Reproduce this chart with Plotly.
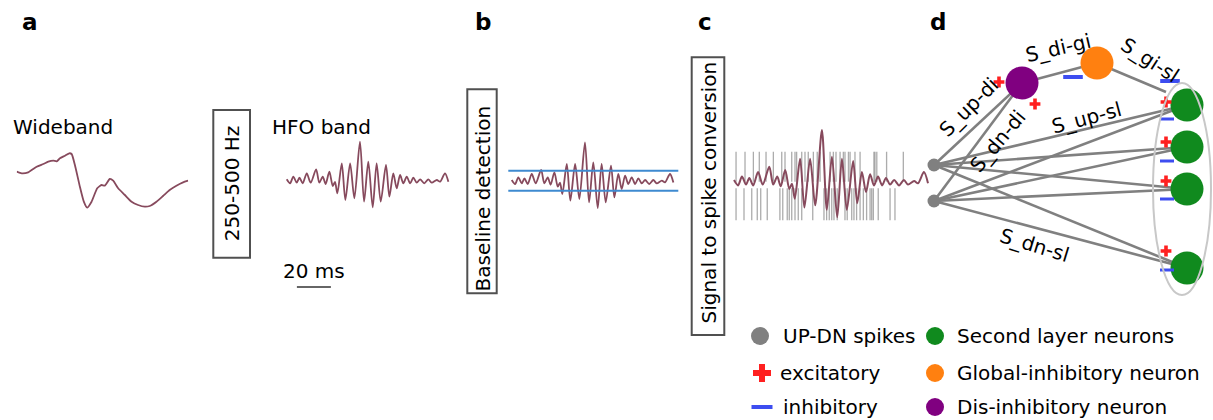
import plotly.graph_objects as go

W, H = 1213, 420

# ---------------- data ----------------
wideband_t = [0, 2.9, 6.7, 11.6, 15.5, 18.4, 21.3, 23.3, 25.2, 28.1, 30.6, 32.0, 33.9, 36.8, 39.1, 41.0,
              43.6, 46.9, 49.4, 51.3, 54.2, 56.2, 59.1, 63.0, 66.9, 70.7, 74.6, 77.5, 81.4, 85.2, 89.1,
              93.0, 96.9, 99.8]
wideband_v = [8.3, 6.7, 7.7, 13.3, 16.0, 18.3, 19.3, 18.7, 21.7, 24.3, 26.7, 26.0, 15.0, -6.7, -21.7,
              -27.7, -21.7, -8.3, -5.0, -5.7, 1.0, -0.7, -8.3, -15.0, -21.7, -25.0, -26.7, -26.0, -21.7,
              -16.0, -10.0, -5.7, -2.3, -0.7]

hfo_t = [0, 2.0, 3.9, 5.9, 7.5, 9.4, 11.8, 14.1, 17.3, 19.2, 21.2, 22.9, 25.1, 27.1, 28.4, 29.8, 32.4,
         34.5, 37.3, 39.8, 43.1, 45.5, 48.0, 50.6, 52.9, 55.3, 58.4, 60.4, 62.7, 64.7, 66.7, 68.6, 70.6,
         72.6, 74.5, 76.5, 78.5, 80.9, 83.3, 85.3, 88.3, 90.2, 93.1, 95.1]
hfo_v = [0.7, -3.3, 3.3, -2.7, 2.3, -3.3, 6.7, -2.7, 10.7, -2.7, 3.3, -4.0, 8.3, -6.0, -2.0, -13.3, 16.7,
         -20.0, 16.7, -18.3, 38.3, -21.7, 18.3, -27.3, 16.7, -21.7, 15.0, -16.7, 6.7, -8.3, 5.0, -3.3, 3.3,
         -3.3, 2.3, -2.7, 0.7, -3.3, 0.7, -2.7, 0.0, -1.7, 6.7, -1.7]

baseline_threshold = 10.0
threshold_t = [-2, 98]

up_spikes = [1.0, 5.4, 9.5, 12.4, 15.7, 19.3, 23.4, 25.0, 28.3, 29.9, 30.7, 33.2, 34.8, 36.4, 38.9,
             40.8, 42.2, 47.1, 48.7, 50.0, 52.0, 53.6, 54.4, 56.1, 56.9, 59.3, 61.8, 68.6, 69.1, 70.0,
             74.8, 83.0]
dn_spikes = [1.0, 4.9, 8.7, 11.4, 13.1, 16.3, 22.5, 23.9, 26.1, 27.1, 28.3, 29.9, 31.5, 33.2, 38.6,
             44.1, 45.4, 46.7, 47.9, 49.0, 50.6, 54.4, 55.5, 57.7, 58.8, 60.1, 61.8, 63.4, 65.0, 66.7,
             67.5, 68.3, 70.7, 76.5, 78.9]

# network (schematic coordinates, pixels)
input_x = [934, 934]
input_y = [165, 201]
di_x, di_y = 1022, 83
gi_x, gi_y = 1097, 63
sl_x = [1187, 1187, 1187, 1187]
sl_y = [105, 147, 189, 268]
gi_target = (1166, 92)

exc_net_x = [999, 1035, 1166, 1166, 1166, 1166]
exc_net_y = [82, 104, 102, 142, 181, 251]
inh_big_x = [1073, 1170]
inh_big_y = [77, 81]
inh_small_x = [1167, 1167, 1167, 1167]
inh_small_y = [119, 161, 199, 270]

edge_labels = [
    ("S_up-di", 969, 107, -45),
    ("S_dn-di", 998, 141, -50),
    ("S_di-gi", 1058, 48, -13),
    ("S_gi-sl", 1150, 60, 33),
    ("S_up-sl", 1086, 118, -15),
    ("S_dn-sl", 1034, 245, 17),
]

legend_rows = [336, 373, 407]

# colours
SIG = "#874a5d"
BLUE_LINE = "#3e8ad0"
GRAY = "#808080"
PURPLE = "#800080"
ORANGE = "#ff8010"
GREEN = "#108a1e"
RED = "#ff2020"
MINUS = "#3d4df0"
FONT = "DejaVu Sans"
FS = 20


def xdom(p0, p1):
    return [p0 / W, p1 / W]


def ydom(top, bot):
    return [1 - bot / H, 1 - top / H]


fig = go.Figure()

# ------------- network (main pixel axis) -------------
ex, ey = [], []
for ix, iy in zip(input_x, input_y):
    for sx, sy in zip(sl_x, sl_y):
        ex += [ix, sx, None]
        ey += [iy, sy, None]
    ex += [ix, di_x, None]
    ey += [iy, di_y, None]
ex += [di_x, gi_x, None, gi_x, gi_target[0], None]
ey += [di_y, gi_y, None, gi_y, gi_target[1], None]
fig.add_trace(go.Scatter(x=ex, y=ey, mode="lines", line=dict(color=GRAY, width=2.6),
                         hoverinfo="skip", showlegend=False))

fig.add_trace(go.Scatter(x=input_x, y=input_y, mode="markers",
                         marker=dict(size=13, color=GRAY), showlegend=False))
fig.add_trace(go.Scatter(x=[di_x], y=[di_y], mode="markers",
                         marker=dict(size=33, color=PURPLE), showlegend=False))
fig.add_trace(go.Scatter(x=[gi_x], y=[gi_y], mode="markers",
                         marker=dict(size=33, color=ORANGE), showlegend=False))
fig.add_trace(go.Scatter(x=sl_x, y=sl_y, mode="markers",
                         marker=dict(size=33, color=GREEN), showlegend=False))

fig.add_trace(go.Scatter(x=exc_net_x, y=exc_net_y, mode="markers",
                         marker=dict(symbol="cross", size=9, color=RED, line=dict(width=0)),
                         showlegend=False))
fig.add_trace(go.Scatter(x=inh_big_x, y=inh_big_y, mode="markers",
                         marker=dict(symbol="line-ew", size=14, line=dict(width=4, color=MINUS)),
                         showlegend=False))
fig.add_trace(go.Scatter(x=inh_small_x, y=inh_small_y, mode="markers",
                         marker=dict(symbol="line-ew", size=10, line=dict(width=3, color=MINUS)),
                         showlegend=False))

# legend markers
fig.add_trace(go.Scatter(x=[760, 935, 935, 935], y=[legend_rows[0], legend_rows[0], legend_rows[1], legend_rows[2]],
                         mode="markers", marker=dict(size=18, color=[GRAY, GREEN, ORANGE, PURPLE]),
                         showlegend=False))
fig.add_trace(go.Scatter(x=[762], y=[legend_rows[1]], mode="markers",
                         marker=dict(symbol="cross", size=15, color=RED, line=dict(width=0)),
                         showlegend=False))
fig.add_trace(go.Scatter(x=[762], y=[legend_rows[2]], mode="markers",
                         marker=dict(symbol="line-ew", size=15, line=dict(width=4, color=MINUS)),
                         showlegend=False))

# ------------- signals -------------
fig.add_trace(go.Scatter(x=wideband_t, y=wideband_v, mode="lines", xaxis="x2", yaxis="y2",
                         line=dict(color=SIG, width=1.8, shape="spline", smoothing=0.5),
                         showlegend=False))
fig.add_trace(go.Scatter(x=hfo_t, y=hfo_v, mode="lines", xaxis="x3", yaxis="y3",
                         line=dict(color=SIG, width=1.8, shape="spline", smoothing=0.8),
                         showlegend=False))
fig.add_trace(go.Scatter(x=hfo_t, y=hfo_v, mode="lines", xaxis="x4", yaxis="y4",
                         line=dict(color=SIG, width=1.8, shape="spline", smoothing=0.8),
                         showlegend=False))
fig.add_trace(go.Scatter(x=threshold_t + [None] + threshold_t,
                         y=[baseline_threshold] * 2 + [None] + [-baseline_threshold] * 2,
                         mode="lines", xaxis="x4", yaxis="y4",
                         line=dict(color=BLUE_LINE, width=2), showlegend=False))
sx, sy = [], []
for t in up_spikes:
    sx += [t, t, None]
    sy += [-0.5, 22, None]
for t in dn_spikes:
    sx += [t, t, None]
    sy += [-5.5, -29.5, None]
fig.add_trace(go.Scatter(x=sx, y=sy, mode="lines", xaxis="x5", yaxis="y5",
                         line=dict(color="rgba(90,90,90,0.5)", width=1.3), showlegend=False))
fig.add_trace(go.Scatter(x=hfo_t, y=hfo_v, mode="lines", xaxis="x5", yaxis="y5",
                         line=dict(color=SIG, width=2.0, shape="spline", smoothing=0.8),
                         showlegend=False))

hidden = dict(visible=False, showgrid=False, zeroline=False, fixedrange=True)
fig.update_layout(
    width=W, height=H, autosize=False,
    margin=dict(l=0, r=0, t=0, b=0),
    paper_bgcolor="white", plot_bgcolor="rgba(0,0,0,0)",
    font=dict(family=FONT, size=FS, color="black"),
    xaxis=dict(range=[0, W], domain=[0, 1], **hidden),
    yaxis=dict(range=[H, 0], domain=[0, 1], **hidden),
    xaxis2=dict(range=[0, 100], domain=xdom(16.7, 16.7 + 1.717 * 100), anchor="y2", **hidden),
    yaxis2=dict(range=[-40, 40], domain=ydom(140, 220), anchor="x2", **hidden),
    xaxis3=dict(range=[-3, 99], domain=xdom(286.7 - 5.1, 286.7 + 1.7 * 99), anchor="y3", **hidden),
    yaxis3=dict(range=[-40, 40], domain=ydom(140, 220), anchor="x3", **hidden),
    xaxis4=dict(range=[-3, 99], domain=xdom(511.7 - 5.1, 511.7 + 1.7 * 99), anchor="y4", **hidden),
    yaxis4=dict(range=[-40, 40], domain=ydom(140.7, 220.7), anchor="x4", **hidden),
    xaxis5=dict(range=[-2, 97], domain=xdom(734 - 4.08, 734 + 2.04 * 97), anchor="y5", **hidden),
    yaxis5=dict(range=[-(240 - 181) / 1.33, (181 - 120) / 1.33], domain=ydom(120, 240), anchor="x5", **hidden),
)

shapes = []
for (x0, y0, x1, y1) in [(213.3, 110, 250, 257.7), (467.3, 89.3, 496.7, 293.3), (691.7, 57.3, 724.3, 335)]:
    shapes.append(dict(type="rect", xref="x", yref="y", x0=x0, y0=y0, x1=x1, y1=y1,
                       line=dict(color="#505050", width=2), fillcolor="rgba(0,0,0,0)"))
shapes.append(dict(type="circle", xref="x", yref="y", x0=1153, y0=83, x1=1211, y1=295,
                   line=dict(color="#c8c8c8", width=2)))
shapes.append(dict(type="line", xref="x3", yref="y", x0=6, x1=26, y0=287, y1=287,
                   line=dict(color="#333333", width=1.5)))
fig.update_layout(shapes=shapes)

ann = []


def txt(s, x, y, size=FS, angle=0, xanchor="center", bold=False):
    ann.append(dict(text=f"<b>{s}</b>" if bold else s, x=x, y=y, xref="x", yref="y",
                    showarrow=False, textangle=angle, xanchor=xanchor, yanchor="middle",
                    borderpad=0,
                    font=dict(family=FONT, size=size, color="black")))


for letter, lx in [("a", 30), ("b", 483), ("c", 705), ("d", 938)]:
    txt(letter, lx, 22, size=23, bold=True)

txt("Wideband", 62.7, 127)
txt("HFO band", 321, 127)
txt("20 ms", 313.5, 271)
txt("250-500 Hz", 231.7, 183.5, angle=-90)
txt("Baseline detection", 482, 198.5, angle=-90)
txt("Signal to spike conversion", 708, 192.5, angle=-90)

for s, x, y, a in edge_labels:
    txt(s, x, y, angle=a)

txt("UP-DN spikes", 782, legend_rows[0], xanchor="left")
txt("Second layer neurons", 956, legend_rows[0], xanchor="left")
txt("excitatory", 779, legend_rows[1], xanchor="left")
txt("Global-inhibitory neuron", 956, legend_rows[1], xanchor="left")
txt("inhibitory", 782, legend_rows[2], xanchor="left")
txt("Dis-inhibitory neuron", 956, legend_rows[2], xanchor="left")

fig.update_layout(annotations=ann)

fig.write_html("out.html")
